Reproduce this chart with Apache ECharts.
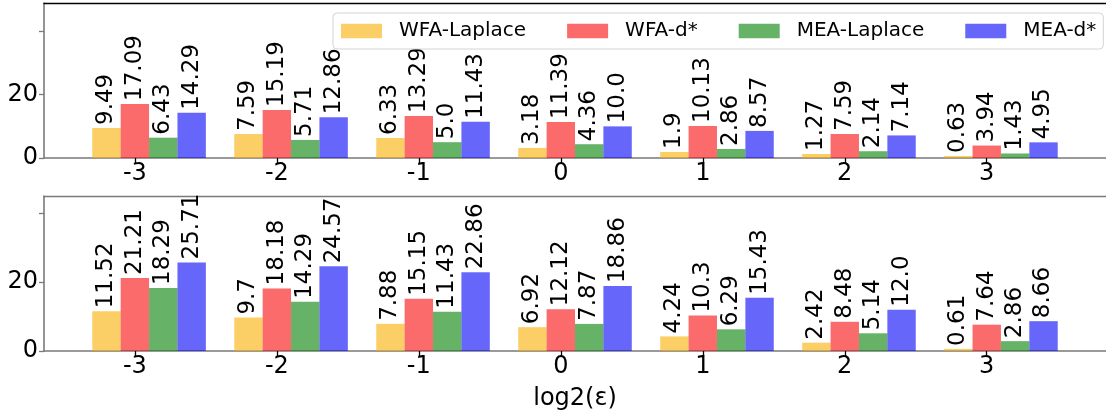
<!DOCTYPE html>
<html>
<head>
<meta charset="utf-8">
<script src="https://cdn.jsdelivr.net/npm/echarts@6/dist/echarts.min.js"></script>
<style>
  html, body { margin: 0; padding: 0; background: #fff; }
  #chart { width: 1106px; height: 415px; }
</style>
</head>
<body>
<div id="chart"></div>
<script>
// log2(epsilon) values on the x axis
const categories = [-3, -2, -1, 0, 1, 2, 3];
const seriesNames = ['WFA-Laplace', 'WFA-d*', 'MEA-Laplace', 'MEA-d*'];

// upper panel
const topWfaLaplace = [9.49, 7.59, 6.33, 3.18, 1.9, 1.27, 0.63];
const topWfaD = [17.09, 15.19, 13.29, 11.39, 10.13, 7.59, 3.94];
const topMeaLaplace = [6.43, 5.71, 5.0, 4.36, 2.86, 2.14, 1.43];
const topMeaD = [14.29, 12.86, 11.43, 10.0, 8.57, 7.14, 4.95];

// lower panel
const botWfaLaplace = [11.52, 9.7, 7.88, 6.92, 4.24, 2.42, 0.61];
const botWfaD = [21.21, 18.18, 15.15, 12.12, 10.3, 8.48, 7.64];
const botMeaLaplace = [18.29, 14.29, 11.43, 7.87, 6.29, 5.14, 2.86];
const botMeaD = [25.71, 24.57, 22.86, 18.86, 15.43, 12.0, 8.66];

const yTicks = [0, 20, 40];
const yTickLabels = [0, 20];

const colors = ['rgba(250,173,0,0.6)', 'rgba(248,8,8,0.6)', 'rgba(0,127,0,0.6)', 'rgba(0,0,247,0.6)'];
const FONT = 'DejaVu Sans';
const GRAY = '#7a7a7a';

// keep a trailing ".0" on whole numbers
function fmt(v) { return Number.isInteger(v) ? v.toFixed(1) : String(v); }

function panelSeries(gi, lists) {
  // an empty leading slot shifts each group so the tick sits on the 2nd bar
  const out = [{
    type: 'bar', name: '_slot', xAxisIndex: gi * 2, yAxisIndex: gi,
    data: [], barWidth: '20%', barGap: '0%', silent: true
  }];
  lists.forEach((vals, k) => {
    out.push({
      type: 'bar',
      name: seriesNames[k],
      xAxisIndex: gi * 2,
      yAxisIndex: gi,
      data: categories.map((c, i) => [c, vals[i]]),
      barWidth: '20%',
      barGap: '0%',
      itemStyle: { color: colors[k] },
      label: {
        show: true,
        position: 'top',
        rotate: 90,
        align: 'left',
        verticalAlign: 'middle',
        distance: 3,
        fontFamily: FONT,
        fontSize: 23,
        color: '#000',
        formatter: p => fmt(p.value[1])
      }
    });
  });
  return out;
}

function xAxes(gi, topColor, showLabels) {
  return [
    {
      type: 'value', gridIndex: gi, position: 'bottom',
      min: -3.64, max: 3.84,
      splitLine: { show: false },
      axisLine: { show: true, onZero: false, lineStyle: { color: GRAY, width: 1.6 } },
      axisTick: { show: true, length: 5, lineStyle: { color: '#000', width: 1.3 }, customValues: categories },
      axisLabel: {
        show: true, customValues: categories, margin: 4,
        fontFamily: FONT, fontSize: 24, color: '#000',
        formatter: v => String(Math.round(v))
      },
      name: showLabels ? 'log2(ε)' : '',
      nameLocation: 'middle',
      nameGap: 36,
      nameTextStyle: { fontFamily: FONT, fontSize: 24, color: '#000' }
    },
    {
      type: 'value', gridIndex: gi, position: 'top',
      min: -3.64, max: 3.84,
      splitLine: { show: false },
      axisLine: { show: true, onZero: false, lineStyle: { color: topColor, width: 1.4 } },
      axisTick: { show: false },
      axisLabel: { show: false }
    }
  ];
}

function yAxis(gi, max) {
  return {
    type: 'value', gridIndex: gi, min: 0, max: max, position: 'left',
    splitLine: { show: false },
    axisLine: { show: true, onZero: false, lineStyle: { color: GRAY, width: 1.6 } },
    axisTick: { show: true, length: 5, lineStyle: { color: GRAY, width: 1.3 }, customValues: yTicks },
    axisLabel: {
      show: true, customValues: yTickLabels, margin: 6,
      fontFamily: FONT, fontSize: 24, color: '#000'
    }
  };
}

const chart = echarts.init(document.getElementById('chart'), null, { renderer: 'canvas' });
chart.setOption({
  animation: false,
  backgroundColor: '#fff',
  textStyle: { fontFamily: FONT },
  grid: [
    { left: 44, top: 3, width: 1070, height: 155 },
    { left: 44, top: 196, width: 1070, height: 155 }
  ],
  legend: {
    data: seriesNames,
    left: 333, top: 13,
    orient: 'horizontal',
    icon: 'rect',
    itemWidth: 41, itemHeight: 14.5,
    itemGap: 41,
    padding: [5, 7, 5, 8],
    backgroundColor: 'rgba(255,255,255,0.85)',
    borderColor: '#d4d4d4', borderWidth: 1, borderRadius: 4,
    textStyle: { fontFamily: FONT, fontSize: 20, color: '#000', lineHeight: 26, padding: [0, 0, 0, 12] },
    z: 10
  },
  xAxis: [].concat(xAxes(0, '#000', false), xAxes(1, GRAY, true)),
  yAxis: [yAxis(0, 49), yAxis(1, 45)],
  series: [].concat(
    panelSeries(0, [topWfaLaplace, topWfaD, topMeaLaplace, topMeaD]),
    panelSeries(1, [botWfaLaplace, botWfaD, botMeaLaplace, botMeaD])
  )
});
</script>
</body>
</html>
